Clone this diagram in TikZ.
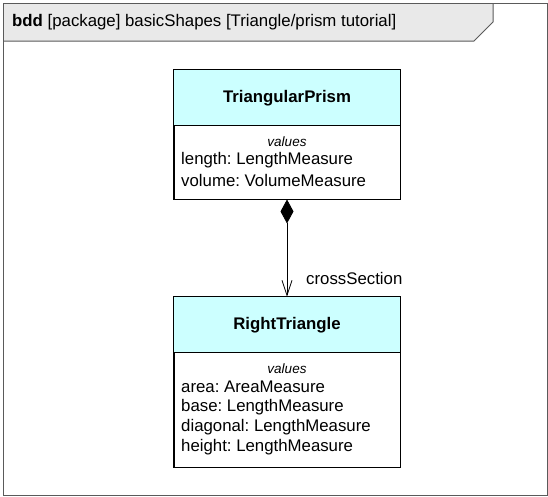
\documentclass[tikz,border=0pt]{standalone}
\usepackage{fontspec}
\setmainfont{Liberation Sans}
\usetikzlibrary{arrows.meta}
\frenchspacing
\definecolor{blockcyan}{RGB}{204,255,255}
\definecolor{tabgray}{RGB}{233,233,233}
\definecolor{framegray}{RGB}{90,90,90}
\tikzset{
  txt/.style={font=\fontsize{16.8}{20}\selectfont, inner sep=0pt},
  bold/.style={font=\fontsize{16.8}{20}\selectfont\bfseries, inner sep=0pt},
  kw/.style={font=\fontsize{13.5}{16}\selectfont\itshape, inner sep=0pt},
  blockbox/.style={draw=black, line width=0.9pt, fill=white, minimum width=226pt, inner sep=0pt},
  headbox/.style={fill=blockcyan, minimum width=226pt, minimum height=55pt, inner sep=0pt},
  attr/.style={txt, anchor=west},
}
\begin{document}
\begin{tikzpicture}[x=1pt,y=-1pt]
\useasboundingbox (0,0) rectangle (548,496);
% frame
\fill[tabgray] (3,3) -- (493,3) -- (493,22) -- (474,41) -- (3,41) -- cycle;
\draw[framegray, line width=1pt] (3,3) rectangle (547,495);
\draw[framegray, line width=1pt] (493,3) -- (493,22) -- (474,41) -- (3,41);
\node[txt, anchor=west] (title) at (12,22) {\textbf{bdd} [package] basicShapes [Triangle/prism tutorial]};

% TriangularPrism
\node[blockbox, minimum height=129pt] (prism) at (287,134.5) {};
\node[headbox] (prismhead) at (287,97.5) {};
\draw[line width=0.9pt] (prism.north west) rectangle (prism.south east);
\draw[line width=0.9pt] (prismhead.south west) -- (prismhead.south east);
\node[bold] (prismname) at (287,98) {TriangularPrism};
\node[kw] (prismvalues) at (287,142) {values};
\node[attr] (plength) at (181,160) {length: LengthMeasure};
\node[attr] (pvolume) at (181,180) {volume: VolumeMeasure};

% RightTriangle
\node[blockbox, minimum height=170pt] (tri) at (287,382) {};
\node[headbox] (trihead) at (287,324.5) {};
\draw[line width=0.9pt] (tri.north west) rectangle (tri.south east);
\draw[line width=0.9pt] (trihead.south west) -- (trihead.south east);
\node[bold] (triname) at (287,325) {RightTriangle};
\node[kw] (trivalues) at (287,369) {values};
\node[attr] (tarea) at (181,387) {area: AreaMeasure};
\node[attr] (tbase) at (181,407) {base: LengthMeasure};
\node[attr] (tdiag) at (181,427) {diagonal: LengthMeasure};
\node[attr] (theight) at (181,447) {height: LengthMeasure};

% composition
\draw[line width=0.8pt, {Diamond[length=24pt,width=13pt]}-{Straight Barb[length=15pt,width=10pt]}] (prism.south) -- (tri.north);
\node[txt, anchor=west] (role) at (306,278) {crossSection};
\end{tikzpicture}
\end{document}
